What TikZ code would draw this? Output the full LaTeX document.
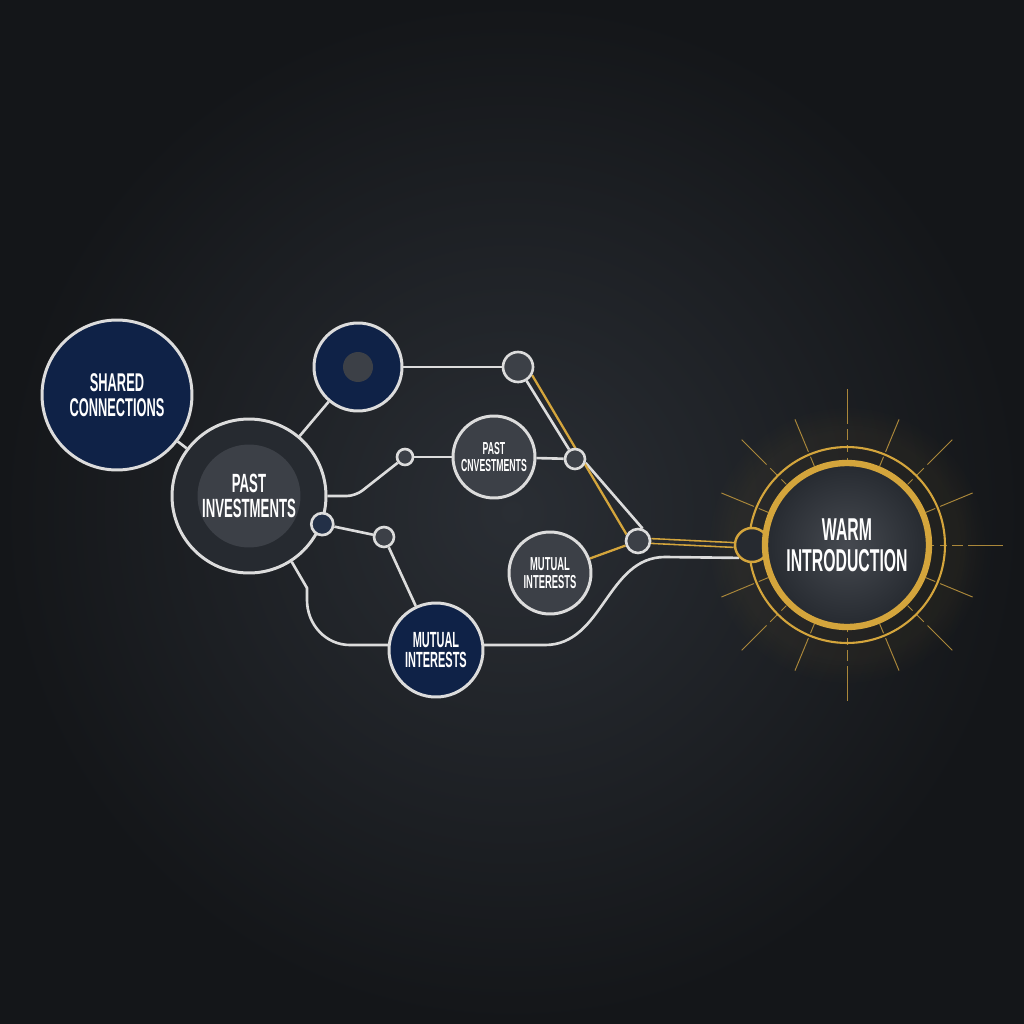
\documentclass[tikz,border=0pt]{standalone}
\usepackage{fontspec}
\newfontfamily\condfont[FakeStretch=0.5]{Liberation Sans}
\usetikzlibrary{calc,fadings}
\definecolor{bgcore}{HTML}{2A2E34}
\definecolor{bgedge}{HTML}{141619}
\definecolor{navyfill}{HTML}{0F2247}
\definecolor{ashfill}{HTML}{3C4047}
\definecolor{ringdark}{HTML}{262A30}
\definecolor{wirewhite}{HTML}{DCDCDC}
\definecolor{gold}{HTML}{D4A53C}
\pgfdeclarelayer{bg}
\pgfdeclarelayer{wires}
\pgfsetlayers{bg,wires,main}

\begin{document}
\begin{tikzpicture}[x=0.02cm,y=-0.02cm,
    hub/.style={circle,draw=wirewhite,line width=1.7pt,inner sep=0pt,align=center,text=white},
    navyhub/.style={hub,fill=navyfill},
    ashhub/.style={hub,fill=ashfill},
    hop/.style={circle,draw=wirewhite,line width=1.5pt,fill=ashfill,inner sep=0pt},
    wire/.style={draw=wirewhite,line width=1.5pt},
    goldwire/.style={draw=gold,line width=1.3pt},
    sunray/.style={draw=gold!75!bgcore,line width=0.55pt,dash pattern=on 20pt off 3pt on 6pt off 3pt on 4pt off 3pt on 60pt}]

  \useasboundingbox (0,0) rectangle (1024,1024);
  \begin{pgfonlayer}{bg}
    \shade[inner color=bgcore,outer color=bgedge] (0,0) rectangle (1024,1024);
  \end{pgfonlayer}

  % left side hubs
  \node[navyhub,minimum size=3cm,font=\condfont\bfseries\fontsize{14.6}{14}\selectfont] (shared) at (117,395) {SHARED\\CONNECTIONS};
  \node[hub,fill=ringdark,minimum size=3.08cm] (pastring) at (249,496) {};
  \node[circle,fill=ashfill,minimum size=2cm,inner sep=0pt,align=center,text=white,font=\condfont\bfseries\fontsize{15}{14.2}\selectfont] (past) at (pastring) {PAST\\INVESTMENTS};
  \node[navyhub,minimum size=1.76cm] (topnavy) at (358,367) {};
  \node[circle,fill=ashfill,minimum size=0.6cm,inner sep=0pt] (topcore) at (topnavy) {};
  \node[hop,minimum size=0.6cm] (hopA) at (518,367) {};
  \node[hop,minimum size=0.32cm] (hopB) at (405,457) {};
  \node[ashhub,minimum size=1.64cm,font=\condfont\bfseries\fontsize{9.9}{9.2}\selectfont] (pastc) at (494,457) {PAST\\CNVESTMENTS};
  \node[hop,minimum size=0.4cm] (hopC) at (575,459) {};
  \node[hop,fill=navyfill!55!ashfill,minimum size=0.44cm] (hopD) at (pastring.-21) {};
  \node[hop,minimum size=0.4cm] (hopE) at (384,537) {};
  \node[navyhub,minimum size=1.88cm,font=\condfont\bfseries\fontsize{12.5}{11.8}\selectfont] (mutual) at (436,650) {MUTUAL\\INTERESTS};
  \node[ashhub,minimum size=1.64cm,font=\condfont\bfseries\fontsize{10.7}{10.1}\selectfont] (mutualc) at (550,573) {MUTUAL\\INTERESTS};
  \node[hop,minimum size=0.48cm] (hopF) at (638,541) {};

  % warm introduction target
  \coordinate (warmc) at (847,545);
  \begin{pgfonlayer}{bg}
    \fill[gold,path fading=circle with fuzzy edge 20 percent,fill opacity=0.05] (warmc) circle[radius=2.8cm];
  \end{pgfonlayer}
  \foreach \a/\r in {0/3.12,22.5/2.72,45/2.98,67.5/2.72,90/3.12,112.5/2.72,135/2.98,157.5/2.72,
                     202.5/2.72,225/2.98,247.5/2.72,270/3.12,292.5/2.72,315/2.98,337.5/2.72}
    \draw[sunray] ($(warmc)+(\a:\r cm)$) -- ($(warmc)+(\a:1.7cm)$);
  \draw[gold,line width=1.2pt] (warmc) circle[radius=1.96cm];
  \node[circle,draw=gold,fill=ringdark,line width=1.4pt,minimum size=0.68cm,inner sep=0pt] (port) at ($(warmc)+(-95,0)$) {};
  \node[circle,draw=gold,line width=3.6pt,minimum size=3.28cm,inner sep=0pt,inner color=ashfill!95!white,outer color=ringdark,
        align=center,text=white,font=\condfont\bfseries\fontsize{18}{17.6}\selectfont] (warm) at (warmc) {WARM\\INTRODUCTION};

  % connectors
  \begin{pgfonlayer}{wires}
    \path[wire] (shared) edge (pastring)
                (pastring) edge (topnavy)
                (topnavy) edge (hopA)
                (hopA) edge (hopC)
                (hopB) edge (pastc)
                (pastc) edge (hopC)
                (hopD) edge (hopE)
                (hopE) edge (mutual)
                (hopC.-20) edge (hopF.70);
    \draw[wire,rounded corners=5pt] (pastring.east) -- ++(28,0) -- (hopB);
    \draw[wire] (pastring.-57) -- (307,588) -- (307,600) to[out=-90,in=180] (350,645) -- (mutual.174);
    \draw[wire] (mutual.6) -- (545,645) to[out=0,in=180] (665,557) -- (port.-135);
    \draw[goldwire] (hopA.-30) -- (hopF.150);
    \draw[goldwire] (mutualc) -- (hopF);
    \draw[draw=gold,line width=0.9pt,double=ringdark,double distance=1.8pt] (hopF.east) -- (port.west);
  \end{pgfonlayer}
\end{tikzpicture}
\end{document}
